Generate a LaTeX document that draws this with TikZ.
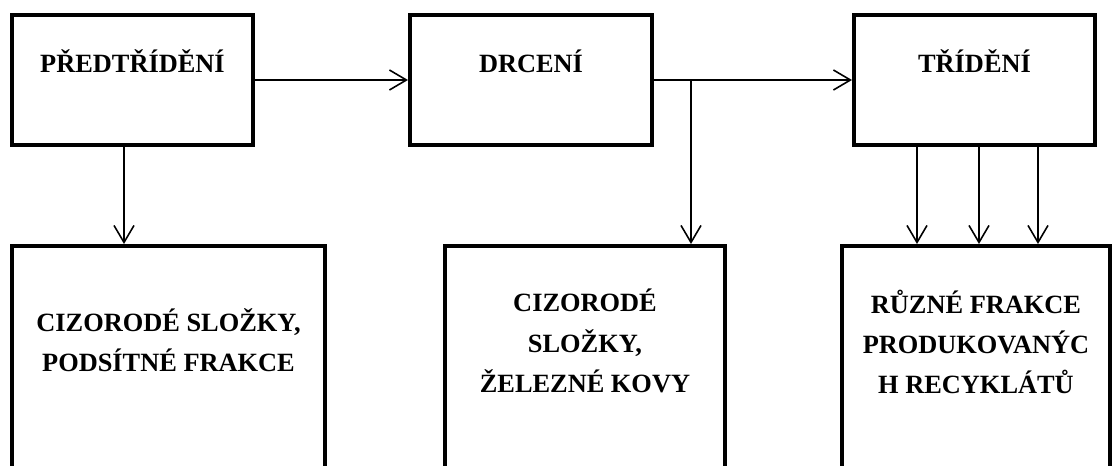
\documentclass[tikz,border=0pt]{standalone}
\usepackage{fontspec}
\setmainfont{Liberation Serif}
\usetikzlibrary{arrows.meta}
\tikzset{
    normal/.style={draw, line width=0.9pt},
    proc/.style={draw, line width=2.3pt, inner sep=0}, % process boxes
    txt/.style={font=\bfseries\fontsize{15}{23}\selectfont, align=center},
    e/.style={style=normal, -{Straight Barb[length=3.4mm, width=4mm]}}
}

\begin{document}
\begin{tikzpicture}
        \clip (0, 0) rectangle (22.3, 9.32);

        % upper row
        \node[proc, minimum width=4.82cm, minimum height=2.6cm] (predtrideni) at (2.65, 7.72) {};
        \node[proc, minimum width=4.84cm, minimum height=2.6cm] (drceni) at (10.62, 7.72) {};
        \node[proc, minimum width=4.82cm, minimum height=2.6cm] (trideni) at (19.49, 7.72) {};
        \node[txt, anchor=base] (predtrideni_t) at (2.65, 7.86) {PŘEDTŘÍDĚNÍ};
        \node[txt, anchor=base] (drceni_t) at (10.62, 7.86) {DRCENÍ};
        \node[txt, anchor=base] (trideni_t) at (19.49, 7.86) {TŘÍDĚNÍ};

        % lower row
        \node[proc, anchor=north, minimum width=6.26cm, minimum height=6cm] (cizorode) at (3.37, 4.44) {};
        \node[proc, anchor=north, minimum width=5.6cm, minimum height=6cm] (zelezne) at (11.7, 4.44) {};
        \node[proc, anchor=north, minimum width=5.36cm, minimum height=6cm] (recyklaty) at (19.52, 4.44) {};
        \node[txt] (cizorode_t) at (3.37, 2.52) {CIZORODÉ SLOŽKY,\\PODSÍTNÉ FRAKCE};
        \node[txt] (zelezne_t) at (11.7, 2.5) {CIZORODÉ\\SLOŽKY,\\ŽELEZNÉ KOVY};
        \node[txt] (recyklaty_t) at (19.52, 2.48) {RŮZNÉ FRAKCE\\PRODUKOVANÝC\\H RECYKLÁTŮ};

        \coordinate (pre_out) at (2.48, 6.42);
        \coordinate (split) at (13.82, 7.72);
        \draw[e] (predtrideni.east) -- (drceni.west);
        \draw[e] (drceni.east) -- (trideni.west);
        \draw[e] (pre_out) -- (pre_out |- cizorode.north);
        \draw[e] (split) -- (split |- zelezne.north);
        \foreach \x in {18.34, 19.58, 20.76}
            \draw[e] (trideni.south -| \x, 0) -- (recyklaty.north -| \x, 0);
      \end{tikzpicture}
\end{document}
